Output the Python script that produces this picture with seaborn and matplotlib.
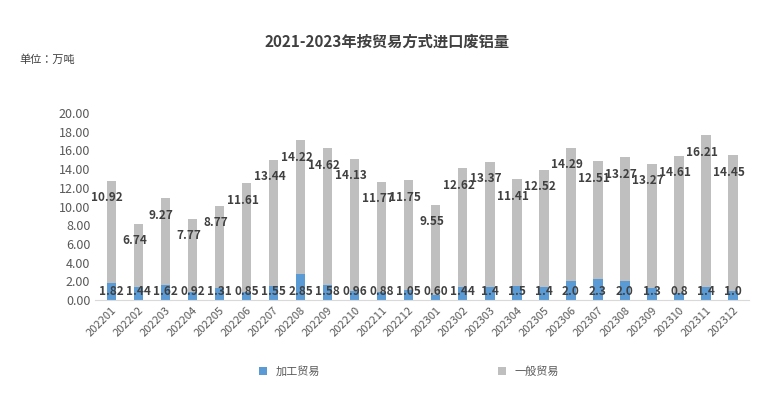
import matplotlib
matplotlib.use("Agg")
import matplotlib.pyplot as plt
from matplotlib import font_manager
import seaborn as sns
import pandas as pd

names = {f.name for f in font_manager.fontManager.ttflist}
cjk = [n for n in ["Noto Sans CJK SC","Noto Sans CJK JP","Noto Sans CJK TC","Noto Sans CJK KR"] if n in names]
plt.rcParams["font.family"] = "sans-serif"
plt.rcParams["font.sans-serif"] = cjk + ["DejaVu Sans"]
num_font = "Liberation Sans Narrow" if "Liberation Sans Narrow" in names else (cjk[0] if cjk else "DejaVu Sans")

months = ["202201","202202","202203","202204","202205","202206","202207","202208","202209","202210","202211","202212",
          "202301","202302","202303","202304","202305","202306","202307","202308","202309","202310","202311","202312"]
processing = [1.82,1.44,1.62,0.92,1.31,0.85,1.55,2.85,1.58,0.96,0.88,1.05,0.60,1.44,1.4,1.5,1.4,2.0,2.3,2.0,1.3,0.8,1.4,1.0]
processing_lbl = ["1.82","1.44","1.62","0.92","1.31","0.85","1.55","2.85","1.58","0.96","0.88","1.05","0.60","1.44","1.4","1.5","1.4","2.0","2.3","2.0","1.3","0.8","1.4","1.0"]
general = [10.92,6.74,9.27,7.77,8.77,11.61,13.44,14.22,14.62,14.13,11.77,11.75,9.55,12.62,13.37,11.41,12.52,14.29,12.51,13.27,13.27,14.61,16.21,14.45]

total = [a+b for a,b in zip(processing, general)]
df_tot = pd.DataFrame({"m": months, "v": total})
df_p = pd.DataFrame({"m": months, "v": processing})

fig = plt.figure(figsize=(7.74,4.03), dpi=100)
ax = fig.add_axes([0.123, 0.255, 0.845, 0.465])
sns.barplot(data=df_tot, x="m", y="v", color="#BFBFBF", width=0.35, ax=ax, saturation=1, label="一般贸易")
sns.barplot(data=df_p, x="m", y="v", color="#5B9BD5", width=0.35, ax=ax, saturation=1, label="加工贸易")
for i in range(len(months)):
    ax.text(i, 0.95, processing_lbl[i], ha="center", va="center", fontsize=8.5, fontweight="bold", color="#404040", family=num_font)
    ax.text(i-0.15, total[i]-1.8, f"{general[i]:.2f}", ha="center", va="center", fontsize=8.5, fontweight="bold", color="#404040", family=num_font)
ax.set_ylim(0, 20)
ax.set_yticks([i*2 for i in range(11)])
ax.set_yticklabels([f"{i*2:.2f}" for i in range(11)], fontsize=9, color="#595959")
ax.set_xlim(-0.6, 23.6)
ax.tick_params(axis="x", rotation=45, labelsize=8, colors="#595959", length=0)
ax.tick_params(axis="y", length=0)
for l in ax.get_xticklabels():
    l.set_ha("right"); l.set_rotation_mode("anchor")
ax.set_xlabel(""); ax.set_ylabel("")
for s in ["top","right","left"]:
    ax.spines[s].set_visible(False)
ax.spines["bottom"].set_color("#D9D9D9")
h, l = ax.get_legend_handles_labels()
ax.legend([h[1], h[0]], [l[1], l[0]], loc="upper center", bbox_to_anchor=(0.48, -0.3), ncol=2,
          frameon=False, fontsize=8, columnspacing=16, handlelength=0.7, handleheight=0.7, labelcolor="#595959")
fig.text(0.5, 0.885, "2021-2023年按贸易方式进口废铝量", ha="center", fontsize=11, fontweight="bold", color="#404040")
fig.text(0.025, 0.845, "单位：万吨", fontsize=8, color="#404040")
fig.savefig("out.png", dpi=100)
